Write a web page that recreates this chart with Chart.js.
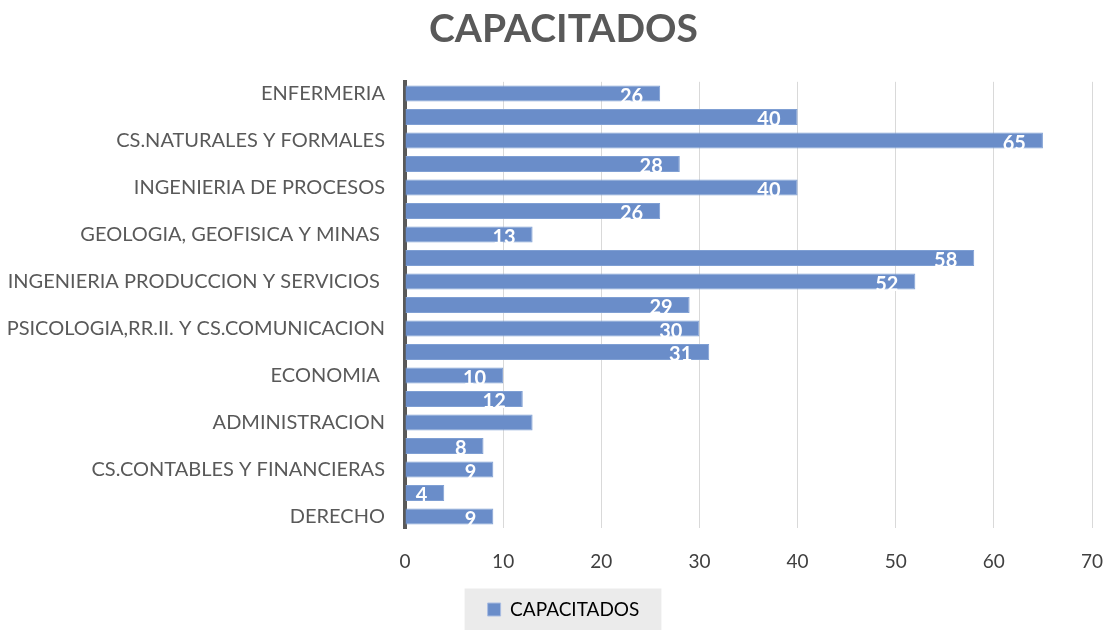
<!DOCTYPE html>
<html><head><meta charset="utf-8">
<script src="https://cdn.jsdelivr.net/npm/chart.js@4"></script>
<style>html,body{margin:0;padding:0;background:#fff}#wrap{width:1113px;height:630px}</style>
</head><body><div id="wrap"><canvas id="c" width="1113" height="630"></canvas></div>
<script>
const titleText = 'CAPACITADOS';
const seriesName = 'CAPACITADOS';
const categories = ['ENFERMERIA','','CS.NATURALES Y FORMALES','','INGENIERIA DE PROCESOS','','GEOLOGIA, GEOFISICA Y MINAS ','','INGENIERIA PRODUCCION Y SERVICIOS ','','PSICOLOGIA,RR.II. Y CS.COMUNICACION','','ECONOMIA ','','ADMINISTRACION','','CS.CONTABLES Y FINANCIERAS','','DERECHO'];
const values = [26,40,65,28,40,26,13,58,52,29,30,31,10,12,13,8,9,4,9];
const showValueLabel = [1,1,1,1,1,1,1,1,1,1,1,1,1,1,0,1,1,1,1];
const xTicks = [0,10,20,30,40,50,60,70];

const FONT = 'Lato, "Open Sans", sans-serif';
const barColor = '#6a8dc9';

const valueLabels = {
  id:'valueLabels',
  afterDatasetsDraw(chart){
    const ctx = chart.ctx;
    const meta = chart.getDatasetMeta(0);
    ctx.save();
    ctx.fillStyle = '#ffffff';
    ctx.font = 'bold 20px ' + FONT;
    ctx.textAlign = 'right';
    ctx.textBaseline = 'middle';
    meta.data.forEach((bar,i)=>{
      if(!showValueLabel[i]) return;
      ctx.fillText(String(values[i]), bar.x - 17, bar.y + 3);
    });
    ctx.restore();
  }
};
const legendBg = {
  id:'legendBg',
  beforeDraw(chart){
    const lg = chart.legend;
    if(!lg || !lg.legendHitBoxes || !lg.legendHitBoxes.length) return;
    const hb = lg.legendHitBoxes[0];
    const ctx = chart.ctx;
    const cy = hb.top + hb.height/2;
    ctx.save();
    ctx.fillStyle = '#ebebeb';
    ctx.fillRect(hb.left - 23, cy - 21, hb.width + 45, 630 - (cy - 21));
    ctx.restore();
  }
};

new Chart(document.getElementById('c'), {
  type:'bar',
  data:{
    labels: categories,
    datasets:[{
      label: seriesName,
      data: values,
      backgroundColor: barColor,
      borderColor: '#7f9fd3',
      borderWidth: 1,
      barPercentage: 0.68,
      categoryPercentage: 1.0
    }]
  },
  options:{
    indexAxis:'y',
    responsive:false,
    animation:false,
    layout:{padding:{left:0,right:-14,top:4,bottom:1}},
    plugins:{
      title:{display:true,text:titleText,color:'#595959',font:{family:FONT,size:39,weight:'bold'},padding:{top:2,bottom:29}},
      legend:{position:'bottom',labels:{color:'#404040',font:{family:FONT,size:19},boxWidth:13,boxHeight:13,padding:5,
        generateLabels(chart){return [{text:seriesName,fillStyle:barColor,strokeStyle:'#a9bde2',lineWidth:1,datasetIndex:0}];}}},
      tooltip:{enabled:false}
    },
    scales:{
      x:{min:0,max:70,
        afterBuildTicks(s){s.ticks = xTicks.map(v=>({value:v}));},
        afterFit(s){s.paddingRight = 21;},
        grid:{color:'#d9d9d9',drawTicks:false,lineWidth:1},
        border:{display:false},
        ticks:{color:'#404040',font:{family:FONT,size:19},padding:22}
      },
      y:{
        grid:{display:false,drawTicks:false},
        border:{display:true,color:'#595959',width:4},
        ticks:{color:'#595959',font:{family:FONT,size:20},padding:20,autoSkip:false},
        afterFit(s){s.width = 405;}
      }
    }
  },
  plugins:[legendBg,valueLabels]
});
</script></body></html>
